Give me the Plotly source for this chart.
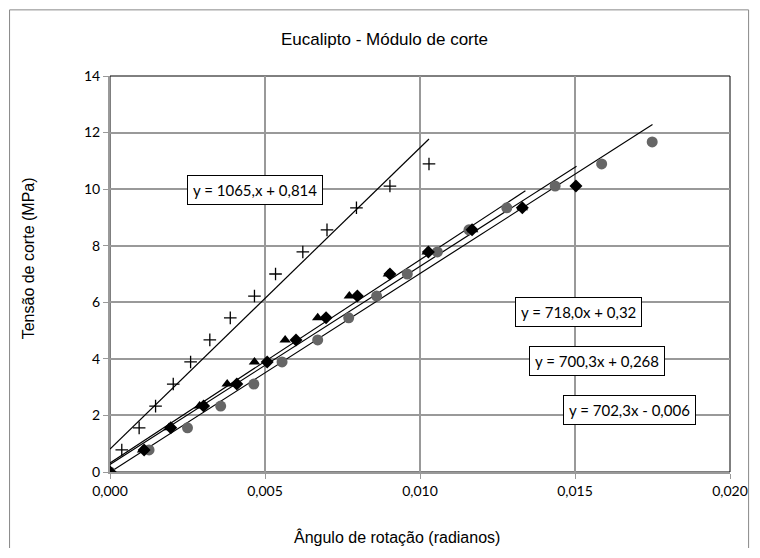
import plotly.graph_objects as go

# Tension levels (MPa) shared by the tests
y_levels = [0, 0.78, 1.56, 2.33, 3.11, 3.89, 4.67, 5.45, 6.22, 7.00, 7.78, 8.56, 9.34, 10.11, 10.89, 11.67]

# Series 1 (plus markers)
x_plus = [0, 0.00038, 0.00094, 0.00147, 0.00204, 0.0026, 0.00322, 0.00388, 0.00466, 0.00534,
          0.00622, 0.0070, 0.00795, 0.00903, 0.01029]
y_plus = y_levels[:15]

# Series 2 (triangles)
x_tri = [0, 0.00105, 0.0019, 0.00289, 0.00378, 0.00466, 0.00565, 0.0067, 0.00772, 0.00898,
         0.01023, 0.0117, 0.0133]
y_tri = y_levels[:13]

# Series 3 (diamonds)
x_dia = [0, 0.0011, 0.00196, 0.00302, 0.00409, 0.00507, 0.006, 0.00697, 0.00798, 0.00903,
         0.01027, 0.01168, 0.0133, 0.01503]
y_dia = y_levels[:14]

# Series 4 (grey circles)
x_cir = [0, 0.00126, 0.0025, 0.00357, 0.00464, 0.00555, 0.0067, 0.0077, 0.0086, 0.00959,
         0.01056, 0.01158, 0.0128, 0.01436, 0.01586, 0.01749]
y_cir = y_levels[:16]

# Trendlines: slope, intercept, x end, label, label position
trend_slope = [1065.0, 718.0, 700.3, 702.3]
trend_icpt = [0.814, 0.32, 0.268, -0.006]
trend_xend = [0.01029, 0.0134, 0.01505, 0.0175]
trend_label = ["y = 1065,x + 0,814", "y = 718,0x + 0,32", "y = 700,3x + 0,268", "y = 702,3x - 0,006"]
label_x = [0.00469, 0.01511, 0.01572, 0.01675]
label_y = [9.97, 5.66, 3.92, 2.19]

x_ticks = [0, 0.005, 0.010, 0.015, 0.020]
y_ticks = [0, 2, 4, 6, 8, 10, 12, 14]

TITLE_FONT = "Liberation Sans, Arial, sans-serif"
LABEL_FONT = "Lato, Open Sans, sans-serif"

fig = go.Figure()

for m, b, xe in zip(trend_slope, trend_icpt, trend_xend):
    fig.add_trace(go.Scatter(x=[0, xe], y=[b, m * xe + b], mode="lines",
                             line=dict(color="black", width=1.2), showlegend=False,
                             hoverinfo="skip"))

fig.add_trace(go.Scatter(x=x_cir, y=y_cir, mode="markers",
                         marker=dict(symbol="circle", size=11, color="#666666"), showlegend=False))
fig.add_trace(go.Scatter(x=x_tri, y=y_tri, mode="markers",
                         marker=dict(symbol="triangle-up", size=10, color="black"), showlegend=False))
fig.add_trace(go.Scatter(x=x_dia, y=y_dia, mode="markers",
                         marker=dict(symbol="diamond", size=10, color="black"), showlegend=False))
fig.add_trace(go.Scatter(x=x_plus, y=y_plus, mode="markers",
                         marker=dict(symbol="cross-thin", size=9, color="black",
                                     line=dict(color="black", width=1.3)), showlegend=False))

for t, lx, ly in zip(trend_label, label_x, label_y):
    fig.add_annotation(x=lx, y=ly, text=t, showarrow=False,
                       font=dict(family=LABEL_FONT, size=15, color="black"),
                       bgcolor="white", bordercolor="black", borderwidth=1, borderpad=5)

# titles as paper annotations
fig.add_annotation(xref="paper", yref="paper", x=0.442, y=1.091, text="Eucalipto - Módulo de corte",
                   showarrow=False, xanchor="center", yanchor="middle",
                   font=dict(family=TITLE_FONT, size=17, color="black"))
fig.add_annotation(xref="paper", yref="paper", x=0.463, y=-0.164, text="Ângulo de rotação (radianos)",
                   showarrow=False, xanchor="center", yanchor="middle",
                   font=dict(family=TITLE_FONT, size=16, color="black"))
fig.add_annotation(xref="paper", yref="paper", x=-0.132, y=0.54, text="Tensão de corte (MPa)",
                   showarrow=False, xanchor="center", yanchor="middle", textangle=-90,
                   font=dict(family=TITLE_FONT, size=16, color="black"))

# plot-area border (top/right dark)
fig.add_shape(type="rect", xref="paper", yref="paper", x0=0, y0=0, x1=1, y1=1,
              line=dict(color="black", width=1), layer="below")
# outer chart frame
fig.add_shape(type="rect", xref="paper", yref="paper", x0=-0.162, y0=-0.194, x1=1.03, y1=1.167,
              line=dict(color="#888888", width=1), layer="below")

fig.update_layout(
    width=752, height=540,
    margin=dict(l=102, r=28, t=68, b=76),
    paper_bgcolor="white", plot_bgcolor="white",
    separators=",.",
    xaxis=dict(range=[0, 0.020], tickvals=x_ticks, tickformat=".3f",
               showgrid=True, gridcolor="#999999", gridwidth=1.5,
               showline=True, linecolor="#999999", linewidth=2,
               ticks="outside", ticklen=5, tickcolor="#999999",
               tickfont=dict(family=LABEL_FONT, size=14, color="black"),
               zeroline=False),
    yaxis=dict(range=[0, 14], tickvals=y_ticks,
               showgrid=True, gridcolor="#999999", gridwidth=1.5,
               showline=True, linecolor="#999999", linewidth=2,
               ticks="outside", ticklen=5, tickcolor="#999999",
               tickfont=dict(family=LABEL_FONT, size=14, color="black"),
               zeroline=False),
)

fig.write_html("out.html")
